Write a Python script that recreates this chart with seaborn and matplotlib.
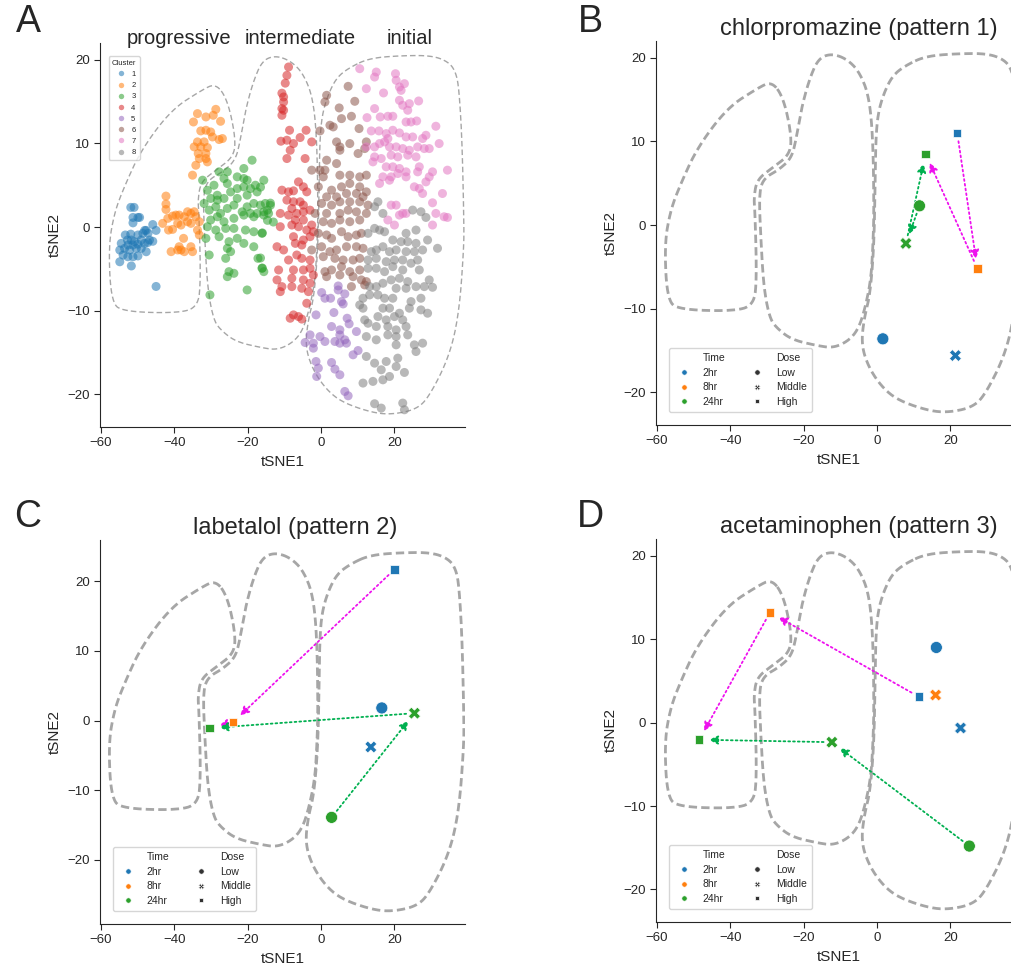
import numpy as np
import pandas as pd
import matplotlib
matplotlib.use("Agg")
import matplotlib.pyplot as plt
import seaborn as sns

# ---------------- Panel A data (cluster scatter) ----------------
c1 = [(-51.9,2.35),(-51.0,2.35),(-51.3,1.15),(-49.95,1.15),(-49.5,1.15),(-51.3,0.5),(-45.9,0.3),(-48.1,-0.4),
      (-47.7,-0.4),(-45.0,-0.4),(-53.4,-0.95),(-51.9,-0.85),(-49.95,-0.95),(-48.6,-0.75),(-47.2,-0.75),(-52.8,-1.55),
      (-51.75,-1.55),(-50.9,-1.75),(-49.05,-1.55),(-46.8,-1.55),(-45.9,-1.7),(-54.5,-1.95),(-52.65,-2.15),(-51.3,-2.15),
      (-49.95,-2.05),(-48.15,-1.95),(-47.25,-1.85),(-54.9,-2.75),(-53.6,-2.55),(-52.2,-2.75),(-50.4,-2.55),(-49.05,-2.55),
      (-47.7,-2.95),(-54.0,-3.35),(-52.7,-3.55),(-51.3,-3.55),(-49.95,-3.45),(-54.9,-4.15),(-51.75,-4.65),(-45.0,-7.1)]
c2 = [(-33.7,13.56),(-31.4,13.16),(-29.4,13.36),(-28.7,14.07),(-27.4,12.64),(-34.8,12.56),(-32.8,11.49),(-31.4,11.57),
      (-30.1,11.37),(-29.6,10.77),(-27.8,10.46),(-26.9,10.58),(-33.7,10.18),(-31.9,10.18),(-34.6,9.58),(-32.8,9.58),
      (-31.0,9.5),(-33.5,8.79),(-31.4,8.79),(-33.2,8.19),(-31.4,8.19),(-31.0,7.79),(-34.15,7.39),(-35.05,6.2),
      (-42.3,3.7),(-42.3,2.75),(-42.3,2.1),(-43.2,0.44),(-41.8,1.04),(-40.5,1.31),(-39.6,1.43),(-38.7,1.43),
      (-37.3,1.23),(-36.4,1.83),(-35.5,1.63),(-34.6,1.83),(-34.15,1.23),(-33.2,0.64),(-41.6,-0.36),(-40.5,-0.28),
      (-39.1,0.44),(-38.2,0.24),(-36.4,0.64),(-35.5,0.44),(-33.7,-0.36),(-33.2,-0.95),(-37.5,-1.35),(-35.5,-2.35),
      (-35.05,-2.94),(-38.7,-2.35),(-38.2,-2.74),(-40.9,-2.94),(-39.1,-2.74),(-37.3,-2.94)]
c3 = [(-18.8,7.99),(-21.05,7.0),(-25.55,6.6),(-27.8,6.6),(-26.47,5.8),(-22.85,6.0),(-21.05,5.8),(-20.15,5.6),
      (-17.9,5.0),(-15.6,5.6),(-32.3,5.6),(-31.0,4.4),(-29.2,5.0),(-28.3,3.8),(-25.55,5.2),(-24.66,4.2),
      (-22.85,4.6),(-21.05,4.8),(-19.24,4.6),(-17.43,4.2),(-30.08,3.42),(-28.27,3.22),(-26.47,3.42),(-22.85,3.42),
      (-20.15,3.81),(-18.34,2.82),(-16.53,2.62),(-15.2,2.82),(-31.9,2.82),(-30.5,2.02),(-28.7,2.42),(-27.4,1.63),
      (-25.55,2.22),(-23.76,2.62),(-21.5,1.82),(-20.15,2.42),(-19.24,1.63),(-17.43,1.63),(-15.6,1.82),(-14.3,1.63),
      (-30.1,0.84),(-28.27,1.23),(-26.47,0.64),(-23.76,1.04),(-21.05,1.43),(-18.34,1.23),(-15.6,1.43),(-31.0,0.04),
      (-28.7,-0.36),(-26.0,-0.16),(-23.76,-0.16),(-20.6,-0.36),(-18.34,-0.56),(-16.1,-0.75),(-31.4,-1.35),(-27.8,-1.15),
      (-25.1,-1.75),(-22.85,-1.35),(-25.55,-2.54),(-24.66,-2.94),(-21.05,-1.95),(-18.34,-2.35),(-30.5,-3.34),(-26.0,-3.74),
      (-17.2,-3.74),(-25.1,-5.33),(-23.76,-5.53),(-25.55,-5.93),(-16.1,-4.93),(-15.6,-5.33),(-20.15,-7.52),(-30.3,-8.11),
      (-16.5,4.77),(-13.8,2.86),(-14.6,2.03),(-13.8,2.6),(-14.6,0.8),(-13.0,0.6),(-16.0,-0.7),(-16.5,-3.7),(-16.0,-4.9)]
c4 = [(-8.85,19.13),(-9.3,18.13),(-9.75,17.2),(-10.66,16.0),(-10.2,15.55),(-10.2,14.95),(-10.66,14.16),(-10.2,13.96),
      (-10.66,13.36),(-8.58,11.57),(-10.93,10.26),(-9.3,10.38),(-7.5,9.98),(-5.69,10.7),(-4.06,11.57),(-2.53,10.18),
      (-8.4,9.18),(-9.3,8.19),(-4.33,8.19),(-10.66,4.41),(-8.85,4.21),(-7.5,4.33),(-6.14,5.4),(-4.8,4.81),
      (-3.88,4.21),(-9.3,3.22),(-7.5,3.02),(-5.69,3.02),(-4.8,2.62),(-7.95,2.22),(-11.1,1.63),(-8.85,1.43),
      (-6.6,1.63),(-4.8,1.82),(-3.0,2.02),(-7.0,0.84),(-4.8,0.84),(-2.53,0.24),(-7.95,0.24),(-6.14,0.04),
      (-3.88,-0.36),(-2.08,-0.56),(-11.1,0.04),(-7.5,-1.15),(-4.8,-1.55),(-2.98,-1.15),(-12.0,-2.35),(-10.2,-2.74),
      (-7.0,-1.95),(-5.24,-2.15),(-8.85,-3.94),(-6.6,-3.34),(-5.24,-3.74),(-2.98,-3.94),(-11.56,-5.13),(-7.5,-5.13),
      (-4.8,-5.13),(-2.98,-4.93),(-2.08,-5.73),(-12.0,-6.32),(-7.95,-6.12),(-4.8,-6.32),(-10.66,-7.12),(-7.95,-7.12),
      (-5.24,-7.32),(-2.98,-6.72),(-11.1,-7.72),(-3.43,-7.72),(-3.88,-9.11),(-7.5,-10.5),(-8.4,-10.9),(-6.14,-10.7),
      (-5.24,-11.0)]
c5 = [(4.7,-7.04),(4.7,-7.52),(0.18,-7.83),(1.08,-8.51),(2.62,-8.51),(6.5,-7.99),(5.6,-8.91),(6.05,-9.19),
      (-1.35,-10.5),(3.52,-10.22),(7.14,-10.9),(7.68,-11.57),(2.89,-11.89),(5.15,-12.29),(9.67,-12.49),(-2.98,-12.89),
      (-0.27,-13.09),(-4.33,-13.8),(-2.08,-13.88),(-2.08,-14.48),(1.08,-13.68),(3.8,-13.68),(5.15,-13.88),(6.5,-13.48),
      (6.96,-13.88),(8.76,-15.27),(10.12,-14.76),(-1.35,-16.07),(2.89,-16.19),(-0.72,-16.86),(3.8,-16.98),(5.15,-17.66),
      (-1.17,-17.86),(6.5,-19.65),(7.41,-20.17),(5.15,-12.89)]
c6 = [(7.41,16.82),(1.54,15.75),(1.08,14.95),(9.22,15.03),(4.97,14.24),(5.6,12.96),(8.31,13.24),(2.44,12.17),
      (3.34,11.97),(10.39,11.77),(-0.27,11.49),(4.25,10.18),(5.15,9.58),(7.86,9.98),(5.15,9.18),(10.12,8.79),
      (11.93,9.38),(12.38,10.18),(1.54,7.99),(4.25,7.59),(-0.27,6.8),(-2.53,6.8),(1.08,6.8),(0.63,6.0),
      (5.15,6.2),(7.86,6.2),(10.57,6.0),(12.38,6.2),(-0.72,4.81),(2.89,4.41),(5.6,4.81),(7.86,5.21),
      (10.57,4.81),(12.38,4.21),(1.54,3.61),(4.25,3.61),(6.96,4.01),(9.67,4.01),(11.48,3.61),(0.18,2.82),
      (2.89,2.62),(5.15,3.02),(7.86,3.02),(10.57,3.02),(12.83,2.62),(-1.62,1.63),(1.54,1.63),(5.15,1.63),
      (7.41,2.02),(9.67,1.82),(12.38,1.63),(0.63,0.64),(2.89,0.44),(5.15,0.84),(7.86,0.64),(10.57,0.84),
      (-0.72,-0.75),(1.54,-0.95),(2.89,-1.35),(5.6,-0.56),(7.41,-1.15),(9.67,-0.95),(11.02,-0.75),(-2.53,-2.74),
      (0.18,-2.35),(2.44,-2.94),(4.25,-2.74),(6.96,-2.35),(9.67,-2.35),(11.48,-2.54),(0.63,-3.54),(3.8,-3.74),
      (6.05,-3.94),(8.76,-3.94),(10.57,-3.74),(1.08,-5.33),(2.89,-5.13),(5.6,-4.73),(7.86,-5.33),(10.57,-5.13),
      (1.54,-5.93),(5.15,-5.73),(8.76,-5.93),(11.02,-6.32),(12.38,-6.52),(8.31,-7.12),(11.93,-6.92)]
c7 = [(10.57,18.93),(15.09,18.53),(14.63,17.93),(20.33,18.33),(20.51,17.54),(22.77,17.14),(21.41,16.74),(21.86,16.34),
      (12.38,16.54),(17.07,16.03),(21.41,15.15),(24.12,14.75),(26.65,15.07),(22.31,14.55),(14.63,14.16),(23.67,13.96),
      (12.56,13.08),(16.17,13.16),(18.25,13.24),(19.6,13.24),(23.22,12.56),(24.57,12.56),(26.11,12.68),(31.35,12.05),
      (13.73,11.49),(15.81,11.49),(17.8,11.17),(19.6,11.57),(21.41,11.25),(23.22,10.77),(25.02,10.77),(27.73,10.58),
      (28.64,10.97),(32.25,9.98),(18.25,10.58),(17.35,10.18),(12.38,9.58),(14.63,9.58),(15.99,9.98),(18.7,9.58),
      (20.51,9.58),(22.31,9.38),(24.12,9.18),(26.38,9.58),(28.19,9.38),(29.54,9.38),(14.63,8.39),(16.44,8.19),
      (19.15,8.59),(20.96,8.39),(23.67,8.59),(25.93,8.39),(14.18,7.79),(17.8,7.2),(19.6,7.2),(21.41,7.0),
      (23.22,6.6),(26.83,7.2),(30.44,6.6),(34.51,6.8),(16.9,6.0),(19.15,6.0),(20.96,6.4),(23.22,6.0),
      (26.38,6.6),(29.54,6.0),(15.99,5.21),(18.7,5.6),(25.48,4.81),(26.83,4.61),(27.73,4.01),(28.64,5.4),
      (33.15,4.01),(30.44,2.9),(19.15,2.62),(20.51,2.62),(22.31,1.63),(33.6,1.23),(18.25,0.84),(20.05,0.24),
      (21.41,1.43),(23.22,1.63),(30.44,0.24),(34.51,1.15),(31.35,1.63)]
c8 = [(14.63,2.43),(16.9,1.63),(15.54,3.02),(25.02,2.03),(27.28,1.83),(28.64,1.15),(14.63,-0.16),(15.99,-0.36),
      (17.35,-0.56),(23.22,-0.75),(25.93,-0.36),(12.83,-0.75),(19.6,-1.55),(21.86,-1.75),(23.67,-1.75),(25.93,-1.95),
      (29.09,-1.55),(31.8,-2.54),(13.73,-2.94),(15.09,-2.74),(16.9,-2.35),(18.7,-2.94),(20.51,-2.74),(23.22,-2.94),
      (25.48,-2.94),(27.73,-2.74),(12.83,-3.94),(15.09,-3.74),(17.8,-4.14),(20.05,-3.94),(22.31,-3.94),(24.57,-4.33),
      (26.38,-3.94),(12.83,-4.93),(15.09,-4.93),(17.35,-5.33),(19.6,-4.73),(22.31,-5.13),(26.83,-5.13),(16.9,-6.72),
      (19.15,-6.32),(21.41,-6.12),(23.67,-6.52),(29.54,-6.32),(13.28,-7.12),(15.09,-7.12),(20.51,-7.32),(23.22,-7.32),
      (25.93,-7.12),(28.19,-7.12),(30.44,-7.2),(11.47,-8.51),(13.28,-8.11),(15.54,-8.11),(17.35,-8.51),(19.6,-8.51),
      (24.57,-8.91),(27.28,-8.51),(10.57,-9.31),(11.47,-9.7),(16.9,-9.7),(18.7,-9.7),(21.41,-10.3),(24.12,-9.7),
      (27.28,-9.9),(29.09,-10.3),(11.93,-11.1),(12.83,-11.5),(15.54,-10.7),(17.8,-11.1),(20.05,-10.7),(22.31,-11.1),
      (15.09,-11.89),(18.25,-11.89),(20.51,-12.29),(23.22,-11.89),(12.38,-13.09),(15.09,-13.48),(18.25,-12.89),(20.51,-13.09),
      (23.67,-12.89),(20.51,-14.08),(25.48,-14.08),(27.73,-13.88),(25.93,-14.88),(12.38,-15.47),(14.63,-16.27),(17.8,-16.07),
      (20.96,-15.67),(16.44,-17.06),(20.51,-16.67),(18.7,-17.86),(22.77,-17.38),(11.47,-18.65),(14.18,-18.45),(16.9,-18.26),
      (14.63,-21.12),(16.44,-21.64),(22.31,-21.04),(22.77,-21.84)]
clusters = [c1, c2, c3, c4, c5, c6, c7, c8]
cluster_names = ["1", "2", "3", "4", "5", "6", "7", "8"]

# ---------------- Outlines (data coords of panel A) ----------------
outline_progressive = [(-28.7,17.2),(-25.5,15.2),(-23.3,10.7),(-23.8,8.4),(-28.7,6.8),(-32.8,5.4),(-33.6,3.2),
                       (-33.3,1.7),(-32.8,-6.3),(-33.6,-9.7),(-40.1,-10.3),(-53.7,-10.1),(-57.2,-9.1),(-58.0,-2.4),
                       (-56.4,1.7),(-53.7,4.8),(-49.1,9.2),(-40.9,14.0),(-32.8,16.3)]
outline_intermediate = [(-12.5,20.5),(-8.4,19.9),(-4.9,18.4),(-2.2,15.5),(-1.1,10.4),(-0.8,1.7),(-1.1,-2.4),
                        (-1.6,-6.3),(-3.0,-9.5),(-4.9,-12.3),(-7.6,-13.8),(-11.9,-14.7),(-16.5,-14.4),(-23.3,-13.7),
                        (-27.4,-12.3),(-29.3,-11.1),(-30.9,-7.5),(-31.7,-1.6),(-32.2,3.8),(-30.9,5.6),(-26.8,6.6),
                        (-23.3,8.0),(-22.0,10.4),(-20.6,14.0),(-18.4,17.5),(-16.0,19.9)]
outline_initial = [(7.9,19.1),(13.3,20.2),(22.2,20.5),(30.4,20.5),(35.0,19.7),(36.9,18.4),(37.7,16.3),(38.5,10.4),
                   (39.0,0.8),(39.0,-2.4),(37.7,-10.3),(35.0,-15.5),(29.5,-20.3),(26.0,-21.8),(19.5,-22.4),
                   (14.1,-22.2),(6.0,-21.0),(1.6,-19.5),(-2.2,-17.1),(-4.3,-14.3),(-3.5,-11.1),(-1.9,-8.4),
                   (-0.8,-2.4),(-0.5,5.6),(-0.3,10.4),(0.3,13.4),(1.9,15.8),(4.3,17.9)]
outlines = [outline_progressive, outline_intermediate, outline_initial]

# ---------------- Panels B-D data ----------------
times = ["2hr", "8hr", "24hr"]
doses = ["Low", "Middle", "High"]

b_time = ["2hr", "2hr", "2hr", "8hr", "24hr", "24hr", "24hr"]
b_dose = ["Low", "Middle", "High", "High", "Low", "Middle", "High"]
b_x = [1.6, 21.4, 21.9, 27.4, 11.6, 7.9, 13.3]
b_y = [-13.6, -15.6, 11.0, -5.2, 2.3, -2.2, 8.5]

c_time = ["2hr", "2hr", "2hr", "8hr", "24hr", "24hr", "24hr"]
c_dose = ["Low", "Middle", "High", "High", "Low", "Middle", "High"]
c_x = [16.6, 13.6, 20.1, -24.0, 2.9, 25.5, -30.4]
c_y = [1.8, -3.8, 21.7, -0.24, -13.9, 1.05, -1.1]

d_time = ["2hr", "2hr", "2hr", "8hr", "8hr", "24hr", "24hr", "24hr"]
d_dose = ["Low", "Middle", "High", "Middle", "High", "Low", "Middle", "High"]
d_x = [16.2, 22.8, 11.4, 16.0, -29.2, 25.2, -12.3, -48.5]
d_y = [9.0, -0.65, 3.1, 3.3, 13.2, -14.8, -2.35, -2.05]

# arrows: (from (time,dose)) -> (to (time,dose)), colour
arrows = [(("2hr", "High"), ("8hr", "High"), "#ee11ee"),
          (("8hr", "High"), ("24hr", "High"), "#ee11ee"),
          (("24hr", "Low"), ("24hr", "Middle"), "#00b050"),
          (("24hr", "Middle"), ("24hr", "High"), "#00b050")]

titles = ["chlorpromazine (pattern 1)", "labetalol (pattern 2)", "acetaminophen (pattern 3)"]

# ---------------- figure ----------------
sns.set_style("ticks")
plt.rcParams["font.family"] = ["Liberation Sans", "DejaVu Sans"]
plt.rcParams["axes.unicode_minus"] = True

W, H = 1011, 965
fig = plt.figure(figsize=(W / 100, H / 100), dpi=100)

def px_axes(l, r, t, b):
    return fig.add_axes([l / W, 1 - b / H, (r - l) / W, (b - t) / H])

XL = (-60.3, 39.3)
YL = (-23.9, 22.0)

axA = px_axes(100, 465, 43, 427)
axB = px_axes(656, 1021, 41, 425)
axC = px_axes(100, 465, 540, 924)
axD = px_axes(656, 1021, 539, 922)


def smooth_closed(pts, n_iter=4):
    p = np.asarray(pts, dtype=float)
    for _ in range(n_iter):
        q = np.roll(p, -1, axis=0)
        p = np.column_stack([0.75 * p + 0.25 * q, 0.25 * p + 0.75 * q]).reshape(-1, 2)
    return np.vstack([p, p[:1]])


def draw_outlines(ax, lw, dash):
    for o in outlines:
        s = smooth_closed(o)
        fx = (s[:, 0] - XL[0]) / (XL[1] - XL[0])
        fy = (s[:, 1] - YL[0]) / (YL[1] - YL[0])
        ax.plot(fx, fy, transform=ax.transAxes, color="#a6a6a6", lw=lw,
                linestyle=(0, dash), clip_on=True, zorder=1)


# Panel A
rows = []
for name, pts in zip(cluster_names, clusters):
    for x, y in pts:
        rows.append((x, y, name))
dfA = pd.DataFrame(rows, columns=["tSNE1", "tSNE2", "Cluster"])
sns.scatterplot(data=dfA, x="tSNE1", y="tSNE2", hue="Cluster", hue_order=cluster_names,
                palette="tab10", s=42, alpha=0.55, linewidth=0, ax=axA, zorder=2)
draw_outlines(axA, 1.0, (4, 2.2))
axA.set_xlim(*XL)
axA.set_ylim(*YL)
sns.move_legend(axA, "upper left", bbox_to_anchor=(0.013, 0.975), fontsize=5.5, title_fontsize=5.5,
                markerscale=0.6, frameon=True, borderpad=0.45, labelspacing=0.5, handletextpad=0.4)
for lab, xc in [("progressive", 179), ("intermediate", 300), ("initial", 410)]:
    fig.text(xc / W, 1 - 39 / H, lab, ha="center", va="center", fontsize=14.5)

# Panels B-D
def drug_panel(ax, t, d, xs, ys, title, ylim, title_x):
    df = pd.DataFrame({"tSNE1": xs, "tSNE2": ys, "Time": t, "Dose": d})
    draw_outlines(ax, 2.0, (3, 1.5))
    sns.scatterplot(data=df, x="tSNE1", y="tSNE2", hue="Time", style="Dose",
                    hue_order=times, style_order=doses, s=75, ax=ax, zorder=3, linewidth=0.5)
    pos = {(tt, dd): (xx, yy) for tt, dd, xx, yy in zip(t, d, xs, ys)}
    for a, b, col in arrows:
        if a in pos and b in pos:
            ax.annotate("", xy=pos[b], xytext=pos[a],
                        arrowprops=dict(arrowstyle="-|>", linestyle=":", color=col, lw=1.3,
                                        shrinkA=6, shrinkB=7, mutation_scale=13), zorder=2)
    ax.set_xlim(*XL)
    ax.set_ylim(*ylim)
    sns.move_legend(ax, "lower left", bbox_to_anchor=(0.02, 0.02), ncol=2, title=None,
                    fontsize=7.5, markerscale=0.45, frameon=True, borderpad=0.5,
                    columnspacing=2.0, handletextpad=0.8, labelspacing=0.45)
    ax.set_title(title, fontsize=17, pad=4, x=title_x)

drug_panel(axB, b_time, b_dose, b_x, b_y, titles[0], YL, 0.556)
drug_panel(axC, c_time, c_dose, c_x, c_y, titles[1], (-29.2, 25.9), 0.534)
drug_panel(axD, d_time, d_dose, d_x, d_y, titles[2], YL, 0.556)

for ax in [axA, axB, axC, axD]:
    sns.despine(ax=ax)
    ax.set_xticks([-60, -40, -20, 0, 20])
    ax.set_yticks([-20, -10, 0, 10, 20])
    ax.tick_params(labelsize=9.5, length=4)
    ax.set_xlabel("tSNE1", fontsize=11)
    ax.set_ylabel("tSNE2", fontsize=11)

for lab, x, y in [("A", 28, 22), ("B", 590, 22), ("C", 28, 517), ("D", 590, 517)]:
    fig.text(x / W, 1 - y / H, lab, ha="center", va="center", fontsize=27)

fig.savefig("out.png", dpi=100)
